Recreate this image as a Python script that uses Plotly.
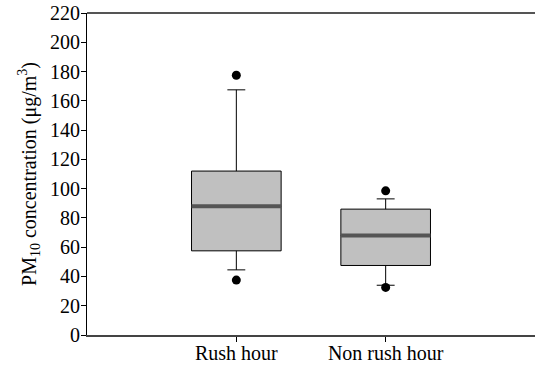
import plotly.graph_objects as go

categories = ["Rush hour", "Non rush hour"]
q1 = [57.5, 47.5]
median = [88, 68]
q3 = [112, 86]
lower_whisker = [44.5, 34]
upper_whisker = [167.5, 93]
outliers_high = [177.5, 98.5]
outliers_low = [37.5, 32.5]

y_ticks = list(range(0, 221, 20))

FONT = "Liberation Serif, Times New Roman, serif"

fig = go.Figure()
fig.add_trace(go.Box(
    x=categories, q1=q1, median=median, q3=q3,
    lowerfence=lower_whisker, upperfence=upper_whisker,
    fillcolor="#c0c0c0", line=dict(color="black", width=1),
    width=0.6, whiskerwidth=0.2, boxpoints=False, showlegend=False,
    hoverinfo="skip",
))

out_x = categories + categories
out_y = outliers_high + outliers_low
fig.add_trace(go.Scatter(
    x=out_x, y=out_y, mode="markers",
    marker=dict(color="black", size=9), showlegend=False,
))

# thick median lines
for i, m in enumerate(median):
    fig.add_shape(type="line", xref="x", yref="y",
                  x0=i - 0.3, x1=i + 0.3, y0=m, y1=m,
                  line=dict(color="#555555", width=4))

# top border
fig.add_shape(type="line", xref="paper", yref="paper", x0=0, x1=1, y0=1, y1=1,
              line=dict(color="#555555", width=2))

fig.update_layout(
    width=536, height=365,
    margin=dict(l=87, r=1, t=13, b=30),
    plot_bgcolor="white", paper_bgcolor="white",
    font=dict(family=FONT, size=20, color="black"),
    xaxis=dict(type="category", range=[-1, 2], showline=True, linecolor="#444444",
               linewidth=2, ticks="outside", ticklen=5, tickcolor="black",
               showgrid=False, zeroline=False, fixedrange=True, automargin=False,
               ticklabelstandoff=-6,
               tickfont=dict(family=FONT, size=20)),
    yaxis=dict(range=[0, 220], tickvals=y_ticks, showline=True, linecolor="black",
               linewidth=1, ticks="outside", ticklen=5, tickcolor="black",
               showgrid=False, zeroline=False, automargin=False,
               ticklabelstandoff=-3,
               tickfont=dict(family=FONT, size=20),
               title=dict(text="PM<sub>10</sub> concentration (μg/m<sup>3</sup>)",
                          font=dict(family=FONT, size=20),
                          standoff=8)),
)

fig.write_html("out.html")
